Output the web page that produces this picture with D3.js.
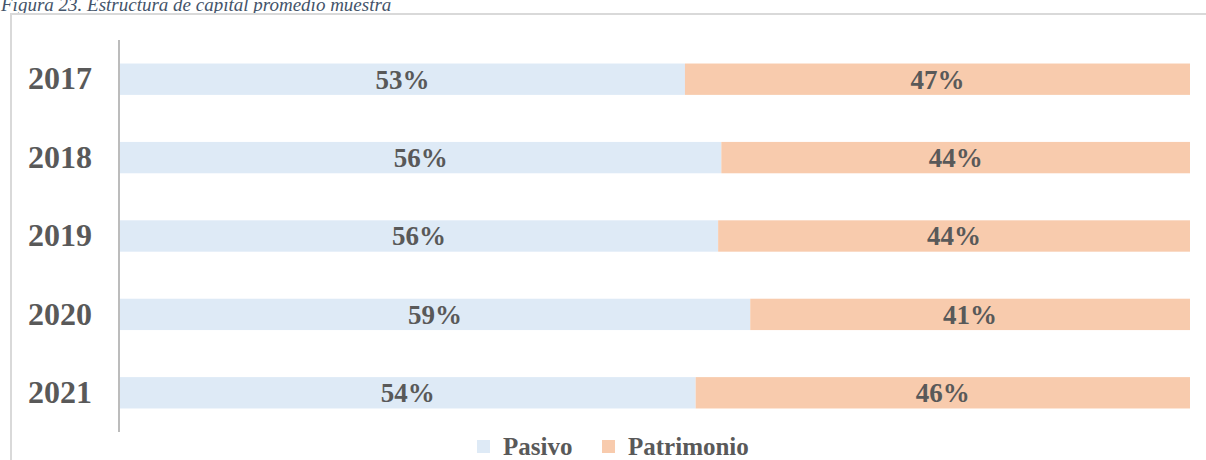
<!DOCTYPE html>
<html>
<head>
<meta charset="utf-8">
<script src="https://cdn.jsdelivr.net/npm/d3@7"></script>
<style>
  body { margin: 0; background: #fff; }
  svg { display: block; font-family: "Liberation Serif", "Times New Roman", serif; }
</style>
</head>
<body>
<div id="chart"></div>
<script>
var years = ["2017", "2018", "2019", "2020", "2021"];
var pasivo = [52.8, 56.2, 55.9, 58.9, 53.8];
var patrimonio = [47.2, 43.8, 44.1, 41.1, 46.2];
var pasivoLabels = ["53%", "56%", "56%", "59%", "54%"];
var patrimonioLabels = ["47%", "44%", "44%", "41%", "46%"];
var seriesNames = ["Pasivo", "Patrimonio"];
var colors = ["#deeaf6", "#f8cbad"];

var width = 1206, height = 460;

var svg = d3.select("#chart").append("svg")
    .attr("width", width)
    .attr("height", height);

// title (cut at top like the source)
svg.append("text")
    .attr("x", 1)
    .attr("y", 11)
    .style("font-style", "italic")
    .style("font-size", "19px")
    .style("fill", "#44546a")
    .text("Figura 23. Estructura de capital promedio muestra");

// chart frame
svg.append("rect")
    .attr("x", 11)
    .attr("y", 14)
    .attr("width", width)
    .attr("height", height)
    .style("fill", "none")
    .style("stroke", "#d9d9d9")
    .style("stroke-width", 2);

var x = d3.scaleLinear().domain([0, 100]).range([120, 1190]);
var y = d3.scaleBand().domain(years).range([40, 432]).paddingInner(0.6).paddingOuter(0.3);

var data = years.map(function (yr, i) {
    return { year: yr, pasivo: pasivo[i], patrimonio: patrimonio[i], l1: pasivoLabels[i], l2: patrimonioLabels[i] };
});

var stack = d3.stack().keys(["pasivo", "patrimonio"]);
var layers = stack(data);

layers.forEach(function (layer, k) {
    svg.append("g").selectAll("rect")
        .data(layer)
        .enter().append("rect")
        .attr("x", function (d) { return x(d[0]); })
        .attr("y", function (d) { return y(d.data.year); })
        .attr("width", function (d) { return x(d[1]) - x(d[0]); })
        .attr("height", y.bandwidth())
        .style("fill", colors[k]);

    svg.append("g").selectAll("text")
        .data(layer)
        .enter().append("text")
        .attr("x", function (d) { return (x(d[0]) + x(d[1])) / 2; })
        .attr("y", function (d) { return y(d.data.year) + y.bandwidth() / 2; })
        .attr("dy", "0.35em")
        .style("text-anchor", "middle")
        .style("font-weight", "bold")
        .style("font-size", "27px")
        .style("fill", "#595959")
        .text(function (d) { return k === 0 ? d.data.l1 : d.data.l2; });
});

// y axis
var yAxis = svg.append("g")
    .attr("transform", "translate(119,0)")
    .call(d3.axisLeft(y).tickSize(0).tickPadding(27));
yAxis.select(".domain").attr("d", "M0,40V432").style("stroke", "#a6a6a6").style("stroke-width", 1.5);
yAxis.selectAll("text")
    .style("font-family", "Liberation Serif, serif")
    .style("font-weight", "bold")
    .style("font-size", "32px")
    .style("fill", "#595959");

// legend
var legendX = [477, 602];
var legend = svg.append("g").selectAll("g")
    .data(seriesNames)
    .enter().append("g")
    .attr("transform", function (d, i) { return "translate(" + legendX[i] + ",440)"; });
legend.append("rect")
    .attr("width", 13)
    .attr("height", 13)
    .style("fill", function (d, i) { return colors[i]; });
legend.append("text")
    .attr("x", 26)
    .attr("y", 15)
    .style("font-weight", "bold")
    .style("font-size", "25px")
    .style("fill", "#595959")
    .text(function (d) { return d; });
</script>
</body>
</html>
